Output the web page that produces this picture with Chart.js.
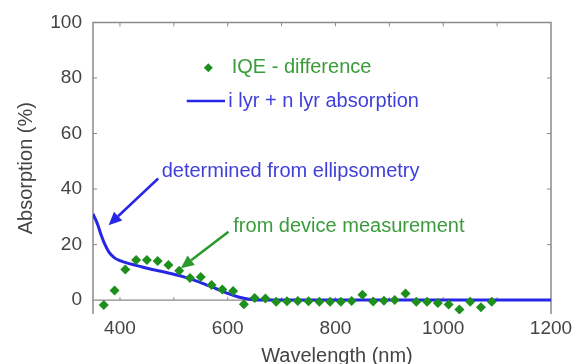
<!DOCTYPE html>
<html>
<head>
<meta charset="utf-8">
<script src="https://cdn.jsdelivr.net/npm/chart.js@4.4.1/dist/chart.umd.min.js"></script>
<style>
html,body{margin:0;padding:0;background:#fff;}
#wrap{width:579px;height:364px;position:relative;}
</style>
</head>
<body>
<div id="wrap"><canvas id="c" width="579" height="364"></canvas></div>
<script>
// ---- data ----
const iqeWavelengths = [370,390,410,430,450,470,490,510,530,550,570,590,610,630,650,670,690,710,730,750,770,790,810,830,850,870,890,910,930,950,970,990,1010,1030,1050,1070,1090];
const iqeDifference  = [-1.8,3.5,11,14.4,14.4,14.1,12.6,10.6,8,8.3,5.4,3.8,3.3,-1.5,0.8,0.6,-0.6,-0.4,-0.3,-0.4,-0.6,-0.6,-0.6,-0.3,1.9,-0.5,-0.2,0,2.4,-0.6,-0.6,-1,-1.6,-3.4,-0.6,-2.6,-0.6];
const absWavelengths = [350,355,360,365,370,380,390,400,420,440,460,480,500,520,540,560,580,600,620,640,660,700,800,900,1000,1100,1200];
const absorption     = [31,29,26.5,23.5,21,17.2,15.2,14.2,13,12,11,10.2,9.3,8.3,7,5.5,4,2.4,1.1,0.3,0,0,0,0,0,0,0];
const xTickLabels = [400,600,800,1000,1200];
const yTickLabels = [0,20,40,60,80,100];
const seriesNames = ['IQE - difference','i lyr + n lyr absorption'];
const xTitle = 'Wavelength (nm)';
const yTitle = 'Absorption (%)';
const noteBlue = 'determined from ellipsometry';
const noteGreen = 'from device measurement';

const GREEN_PT = '#1d8f1d', GREEN_TX = '#3a9c3a', BLUE_LN = '#2626e6', BLUE_TX = '#3f3fdc';
const FONT = '"Liberation Sans", Arial, sans-serif';
const AXIS = '#8a8a8a';

function arrow(ctx, x1, y1, x2, y2, color){
  const ang = Math.atan2(y2-y1, x2-x1);
  const hl = 13, hw = 6;
  const bx = x2 - hl*Math.cos(ang), by = y2 - hl*Math.sin(ang);
  ctx.strokeStyle = color; ctx.fillStyle = color; ctx.lineWidth = 2.5;
  ctx.beginPath(); ctx.moveTo(x1,y1); ctx.lineTo(bx,by); ctx.stroke();
  ctx.beginPath();
  ctx.moveTo(x2,y2);
  ctx.lineTo(bx + hw*Math.sin(ang), by - hw*Math.cos(ang));
  ctx.lineTo(bx - hw*Math.sin(ang), by + hw*Math.cos(ang));
  ctx.closePath(); ctx.fill();
}

const decor = {
  id:'decor',
  beforeDatasetsDraw(chart){
    const {ctx, chartArea:a, scales:{x,y}} = chart;
    ctx.save();
    ctx.strokeStyle = AXIS; ctx.lineWidth = 1.5;
    ctx.beginPath();
    ctx.moveTo(a.left, a.bottom); ctx.lineTo(a.left, a.top); ctx.lineTo(a.right, a.top); ctx.lineTo(a.right, a.bottom);
    ctx.stroke();
    const y0 = y.getPixelForValue(0);
    ctx.lineWidth = 1.2;
    ctx.beginPath(); ctx.moveTo(a.left, y0); ctx.lineTo(a.right, y0); ctx.stroke();
    ctx.lineWidth = 1;
    for(let v=400; v<1200; v+=100){
      const px = x.getPixelForValue(v);
      ctx.beginPath(); ctx.moveTo(px, a.top); ctx.lineTo(px, a.top+4); ctx.stroke();
      ctx.beginPath(); ctx.moveTo(px, y0); ctx.lineTo(px, y0-3); ctx.stroke();
    }
    for(let v=20; v<100; v+=20){
      const py = y.getPixelForValue(v);
      ctx.beginPath(); ctx.moveTo(a.left, py); ctx.lineTo(a.left+4, py); ctx.stroke();
      ctx.beginPath(); ctx.moveTo(a.right, py); ctx.lineTo(a.right-4, py); ctx.stroke();
    }
    ctx.restore();
  },
  afterDatasetsDraw(chart){
    const {ctx, scales:{x,y}} = chart;
    const X = v => x.getPixelForValue(v), Y = v => y.getPixelForValue(v);
    ctx.save();
    ctx.font = '20px ' + FONT;
    ctx.textBaseline = 'middle'; ctx.textAlign = 'left';
    const lx = X(564), ly = Y(83.7);
    ctx.fillStyle = GREEN_PT;
    ctx.beginPath(); ctx.moveTo(lx, ly-4.5); ctx.lineTo(lx+4.5, ly); ctx.lineTo(lx, ly+4.5); ctx.lineTo(lx-4.5, ly); ctx.closePath(); ctx.fill();
    ctx.fillStyle = GREEN_TX; ctx.fillText(seriesNames[0], X(607.4), ly);
    const l2y = Y(71.7);
    ctx.strokeStyle = BLUE_LN; ctx.lineWidth = 2.5;
    ctx.beginPath(); ctx.moveTo(X(524), l2y); ctx.lineTo(X(595), l2y); ctx.stroke();
    ctx.fillStyle = BLUE_TX; ctx.fillText(seriesNames[1], X(601), l2y);
    ctx.fillStyle = BLUE_TX; ctx.fillText(noteBlue, X(477.4), Y(46.2));
    arrow(ctx, X(471), Y(43.8), X(379), Y(27.0), BLUE_LN);
    ctx.fillStyle = GREEN_TX; ctx.fillText(noteGreen, X(610.4), Y(26.6));
    arrow(ctx, X(601.5), Y(24.6), X(513), Y(11.5), '#2a9a2a');
    ctx.fillStyle = '#444';
    ctx.font = '20px ' + FONT;
    ctx.textAlign = 'center'; ctx.textBaseline = 'alphabetic';
    ctx.fillText(xTitle, 337, 362);
    ctx.translate(32, (chart.chartArea.top + chart.chartArea.bottom)/2);
    ctx.rotate(-Math.PI/2);
    ctx.fillText(yTitle, 0, 0);
    ctx.restore();
  }
};

new Chart(document.getElementById('c'), {
  data:{
    datasets:[
      { type:'scatter', label:seriesNames[0], order:1,
        data: iqeWavelengths.map((w,i)=>({x:w, y:iqeDifference[i]})),
        pointStyle:'rectRot', pointRadius:5, backgroundColor:GREEN_PT, borderColor:GREEN_PT, borderWidth:0 },
      { type:'line', label:seriesNames[1], order:2,
        data: absWavelengths.map((w,i)=>({x:w, y:absorption[i]})),
        borderColor:BLUE_LN, borderWidth:3, pointRadius:0, fill:false, cubicInterpolationMode:'monotone' }
    ]
  },
  options:{
    responsive:false, animation:false,
    layout:{padding:{top:22,right:28,left:0,bottom:0}},
    plugins:{legend:{display:false}, tooltip:{enabled:false}},
    scales:{
      x:{ type:'linear', position:'bottom', min:350, max:1200,
          afterFit(s){ s.height = 50; },
          afterBuildTicks(s){ s.ticks = xTickLabels.map(v=>({value:v})); },
          grid:{display:false, drawTicks:false}, border:{display:false},
          ticks:{ font:{family:FONT, size:19}, color:'#444', padding:3, maxRotation:0, autoSkip:false,
                  callback:(v)=>String(v) } },
      y:{ type:'linear', min:-5, max:100,
          afterFit(s){ s.width = 93; },
          afterBuildTicks(s){ s.ticks = yTickLabels.map(v=>({value:v})); },
          grid:{display:false, drawTicks:false}, border:{display:false},
          ticks:{ font:{family:FONT, size:19}, color:'#444', padding:11, callback:(v)=>String(v) } }
    }
  },
  plugins:[decor]
});
</script>
</body>
</html>
